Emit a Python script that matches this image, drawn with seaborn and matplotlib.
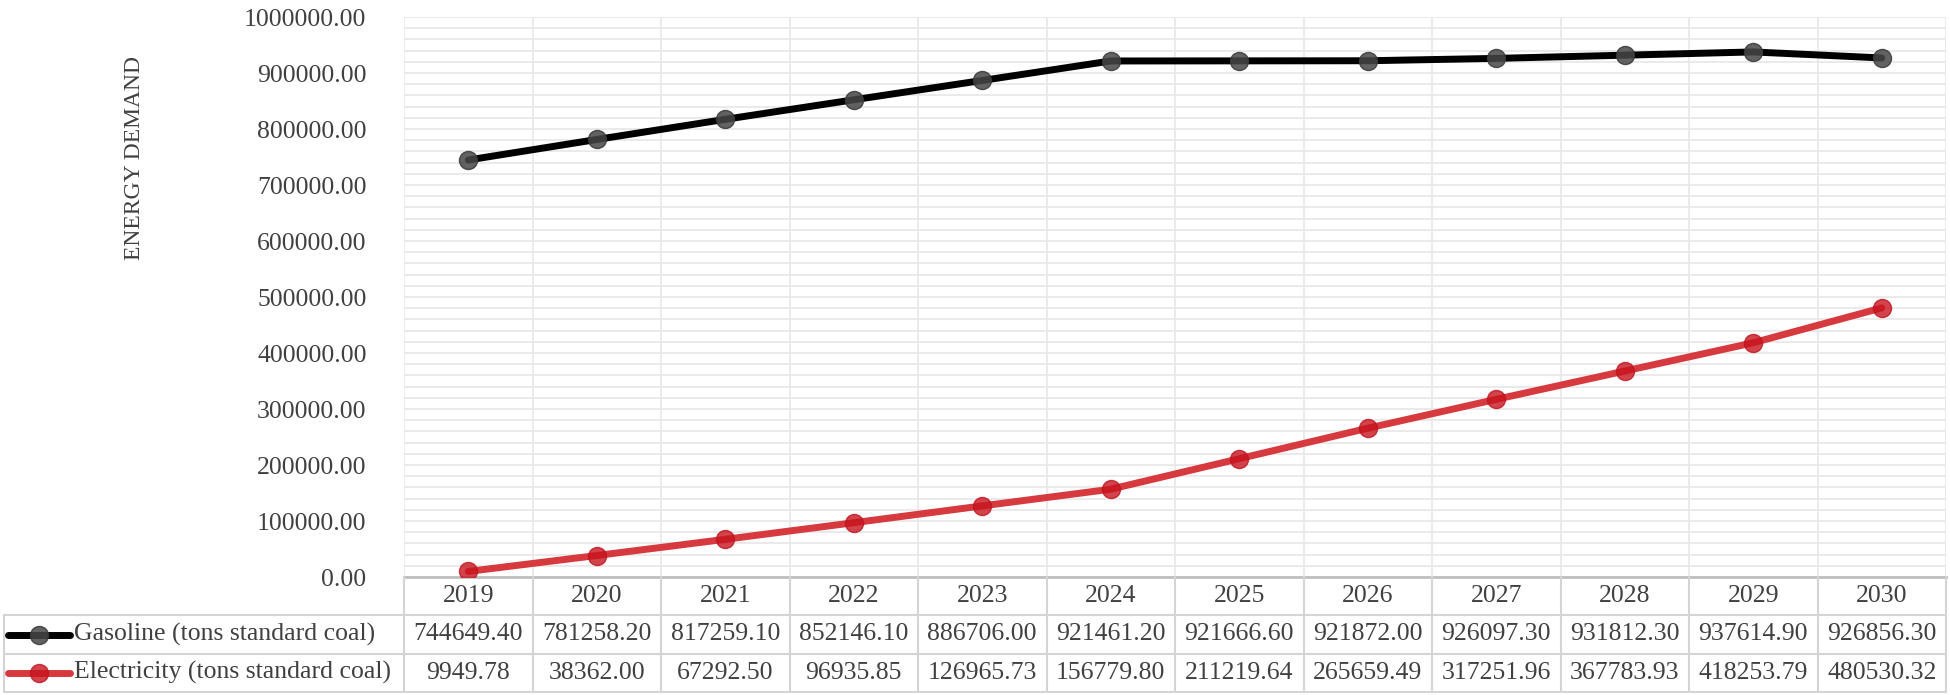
import matplotlib
matplotlib.use("Agg")
import matplotlib.pyplot as plt
import matplotlib.transforms as mtransforms
from matplotlib.lines import Line2D
from matplotlib.ticker import MultipleLocator, FuncFormatter
import seaborn as sns
import pandas as pd

# ------------------------------
# Data read off the chart's data table
# ------------------------------
years = [2019, 2020, 2021, 2022, 2023, 2024, 2025, 2026, 2027, 2028, 2029, 2030]
gasoline = [744649.40, 781258.20, 817259.10, 852146.10, 886706.00, 921461.20,
            921666.60, 921872.00, 926097.30, 931812.30, 937614.90, 926856.30]
electricity = [9949.78, 38362.00, 67292.50, 96935.85, 126965.73, 156779.80,
               211219.64, 265659.49, 317251.96, 367783.93, 418253.79, 480530.32]
series_names = ["Gasoline (tons standard coal)", "Electricity (tons standard coal)"]
y_label = "ENERGY DEMAND"

sns.set_theme(style="white")
plt.rcParams["font.family"] = ["Liberation Serif", "DejaVu Serif"]

text_col = "#404040"
grid_col = "#e8e8e8"
table_col = "#d4d4d4"
styles = [
    dict(color="black", mfc=(0.28, 0.28, 0.28, 0.85), mec=(0.22, 0.22, 0.22, 0.85)),
    dict(color="#d63a3e", mfc=(0.78, 0.08, 0.12, 0.8), mec=(0.75, 0.08, 0.12, 0.8)),
]

df = pd.DataFrame({"idx": range(len(years)), "year": years,
                   series_names[0]: gasoline, series_names[1]: electricity})

W, H = 1950, 695
fig = plt.figure(figsize=(W / 100, H / 100), dpi=100)
x0, x1 = 404 / W, 1946 / W
ax = fig.add_axes([x0, 1 - 577 / H, x1 - x0, (577 - 17) / H])
ax_t = fig.add_axes([x0, 1 - 692 / H, x1 - x0, (692 - 577) / H], sharex=ax)

# ------------------------------
# Lines
# ------------------------------
for name, st in zip(series_names, styles):
    sns.lineplot(data=df, x="idx", y=name, ax=ax, color=st["color"], lw=5,
                 marker="o", markersize=13, markerfacecolor=st["mfc"],
                 markeredgecolor=st["mec"], markeredgewidth=1,
                 solid_joinstyle="round", solid_capstyle="round", zorder=5)

ax.set_xlim(-0.5, len(years) - 0.5)
ax.set_ylim(0, 1000000)
ax.yaxis.set_major_locator(MultipleLocator(100000))
ax.yaxis.set_minor_locator(MultipleLocator(20000))
ax.yaxis.set_major_formatter(FuncFormatter(lambda v, p: f"{v:.2f}"))
ax.grid(axis="y", which="both", color=grid_col, lw=1.3)
for b in range(len(years) + 1):
    ax.axvline(b - 0.5, color=grid_col, lw=1.3, zorder=0)
ax.set_xticks([])
ax.set_xlabel("")
ax.set_ylabel("")
ax.tick_params(axis="y", which="both", length=0, pad=27, labelsize=18.5, labelcolor=text_col)
for s in ["top", "right", "left"]:
    ax.spines[s].set_visible(False)
ax.spines["bottom"].set_color("#bfbfbf")
ax.spines["bottom"].set_linewidth(2)
ax.patch.set_alpha(0)

fig.text(135 / W, 1 - 158 / H, y_label, rotation=90, ha="center", va="center",
         fontsize=17, color=text_col)

# ------------------------------
# Data table under the plot
# ------------------------------
ax_t.set_ylim(3, 0)
ax_t.axis("off")
ax_t.patch.set_alpha(0)
blend = mtransforms.blended_transform_factory(fig.transFigure, ax_t.transData)
left = 4 / W

for b in range(len(years) + 1):
    ax_t.plot([b - 0.5, b - 0.5], [0, 3], color=table_col, lw=1.5, clip_on=False)
for r in [1, 2, 3]:
    ax_t.add_line(Line2D([left, x1], [r, r], transform=blend, color=table_col, lw=1.5, clip_on=False))
ax_t.add_line(Line2D([left, left], [1, 3], transform=blend, color=table_col, lw=1.5, clip_on=False))

for i, yr in enumerate(years):
    ax_t.text(i, 0.5, str(yr), ha="center", va="center", fontsize=18.5, color=text_col)
for r, vals in enumerate([gasoline, electricity], start=1):
    for i, v in enumerate(vals):
        ax_t.text(i, r + 0.5, f"{v:.2f}", ha="center", va="center", fontsize=18.5, color=text_col)

for r, (name, st) in enumerate(zip(series_names, styles), start=1):
    ax_t.add_line(Line2D([8 / W, 70 / W], [r + 0.5, r + 0.5], transform=blend,
                         color=st["color"], lw=5, clip_on=False))
    ax_t.add_line(Line2D([39 / W], [r + 0.5], transform=blend, marker="o", markersize=13,
                         mfc=st["mfc"], mec=st["mec"], lw=0, clip_on=False))
    ax_t.text(74 / W, r + 0.5, name, transform=blend, ha="left", va="center",
              fontsize=18.5, color=text_col)

fig.savefig("out.png", dpi=100)
